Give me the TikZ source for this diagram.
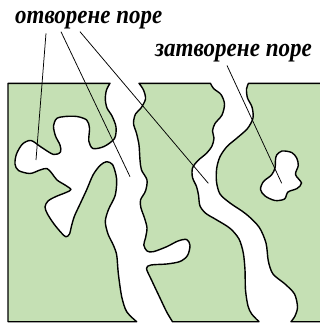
\documentclass[tikz,border=0pt]{standalone}
\usepackage{fontspec}
\setmainfont{Liberation Serif}
\usepackage{graphicx}
\definecolor{matrixgreen}{RGB}{197,224,180}
\tikzset{
  grain/.style={fill=matrixgreen, draw=black, line width=1.4pt, line join=round},
  closedpore/.style={fill=white, draw=black, line width=1.4pt},
  leader/.style={draw=black, line width=0.75pt},
  lbl/.style={inner sep=0pt, anchor=base west,
    font=\fontsize{26}{30}\selectfont\bfseries\itshape}
}
\begin{document}
\begin{tikzpicture}[x=1pt, y=-1pt]
\useasboundingbox (0,0) rectangle (320,327);

% left block of material, with the branched open pore cut into it
\path[grain] (8,83.3) -- (110,83.3) -- plot[smooth] coordinates {
  (110,83.3) (106.5,90) (105.3,99) (107,108) (112,116) (116,127) (114.5,138.5)
  (104,146.5) (93,148.5) (88.8,141) (89.5,128) (86.7,120) (77,116.5) (65,116.5)
  (56.7,118.5) (53.5,126) (55.5,136) (60,145) (60.5,152) (53.5,154.5) (41,147)
  (31,140.5) (22.5,144) (16.5,154) (15,164) (18.5,170.5) (30,173.5) (40,170)
  (47,168.5) (52,173.5) (57,180) (65,185) (71,189.5) (66,192.5) (56,196.5)
  (48,201) (45,207) (47.5,214) (54,224) (61.5,233) (66,236.8) (69.5,234)
  (71.5,226) (74.5,216) (81,202) (87,189) (93,175) (100,165.5) (106.5,161.7)
  (112.5,164.5) (116,175) (116.7,183) (115,196) (108.5,209.5) (105.3,221.5)
  (108,234) (113.3,245) (116.7,255) (118.3,273.3) (121.7,296.7) (126.7,311.7)
  (136.7,321.7)} -- (8,321.7) -- cycle;

% middle block between the two through-going pores
\path[grain] (139,83.3) -- (210.5,83.3) -- plot[smooth] coordinates {
  (210.5,83.3) (213.5,88.5) (221,94.5) (224.5,104) (222,115) (215,123.5)
  (212.5,131) (214,138) (212,146) (206.5,153.3) (198,160.5) (192.5,168)
  (192.5,177.5) (196.5,186.5) (198.5,195) (200,206) (206,213.5) (216,219.5)
  (230,228.3) (239,239) (243.3,253) (245,270) (245.5,290) (248,306) (251.7,314)
  (259,321.7)} -- (172.5,321.7) -- plot[smooth] coordinates {
  (172.5,321.7) (166.7,312) (160,298) (151.5,280) (146.5,268.5) (151,265)
  (166.7,264) (180,261.5) (187.5,255.5) (190,245.5) (186.7,239.5) (178,241)
  (166.7,246.7) (153.3,251.7) (147,251) (143.8,245) (145.5,238) (147,228)
  (144.5,218) (141,208) (140.5,200) (145.5,191) (147,180) (141.5,170) (140,160)
  (139,145) (136.5,133.3) (133.5,123.3) (135.5,114) (141,108) (145.5,99)
  (143.5,90) (139,83.3)} -- cycle;

% right block, running off the right edge
\path[grain] (248.5,83.3) -- (330,83.3) -- (330,321.7) -- (291,321.7)
  -- plot[smooth] coordinates {
  (291,321.7) (295,316) (297.5,307) (294.5,294) (285,284) (273,274) (268.3,261)
  (266,243) (259,227) (246,214) (230,203) (220,194) (216.5,181.7) (216.7,168.3)
  (220,156.7) (227,146.5) (237,138) (247.5,128.5) (253,118) (252,107) (247.5,98)
  (246.5,89) (248.5,83.3)} -- cycle;

% isolated (closed) pore
\path[closedpore] plot[smooth cycle] coordinates {
  (276.7,155) (282,151) (291.7,152.5) (296.7,158) (298.3,165.5) (295.5,174.5)
  (301.5,183) (297,188.5) (288,192) (284.5,199) (275,200.5) (265,196)
  (260.5,189.5) (263.5,181.5) (271.5,175) (275,168) (275.5,160)};

% labels
\node[lbl] (openlbl) at (15,23.3) {\resizebox{147pt}{\height}{отворене поре}};
\node[lbl] (closedlbl) at (155,56.3) {\resizebox{156.7pt}{\height}{затворене поре}};

% leader line ends
\coordinate (o1) at (46,33.3);
\coordinate (o2) at (61,31.7);
\coordinate (o3) at (80,31.7);
\coordinate (c1) at (227,65.5);
\coordinate (blobpt) at (36,160);
\coordinate (chanA) at (130,176.7);
\coordinate (chanB) at (208.3,183.3);
\coordinate (closedpt) at (281.7,183.3);

\draw[leader] (o1) -- (blobpt);
\draw[leader] (o2) -- (chanA);
\draw[leader] (o3) -- (chanB);
\draw[leader] (c1) -- (closedpt);
\end{tikzpicture}
\end{document}
